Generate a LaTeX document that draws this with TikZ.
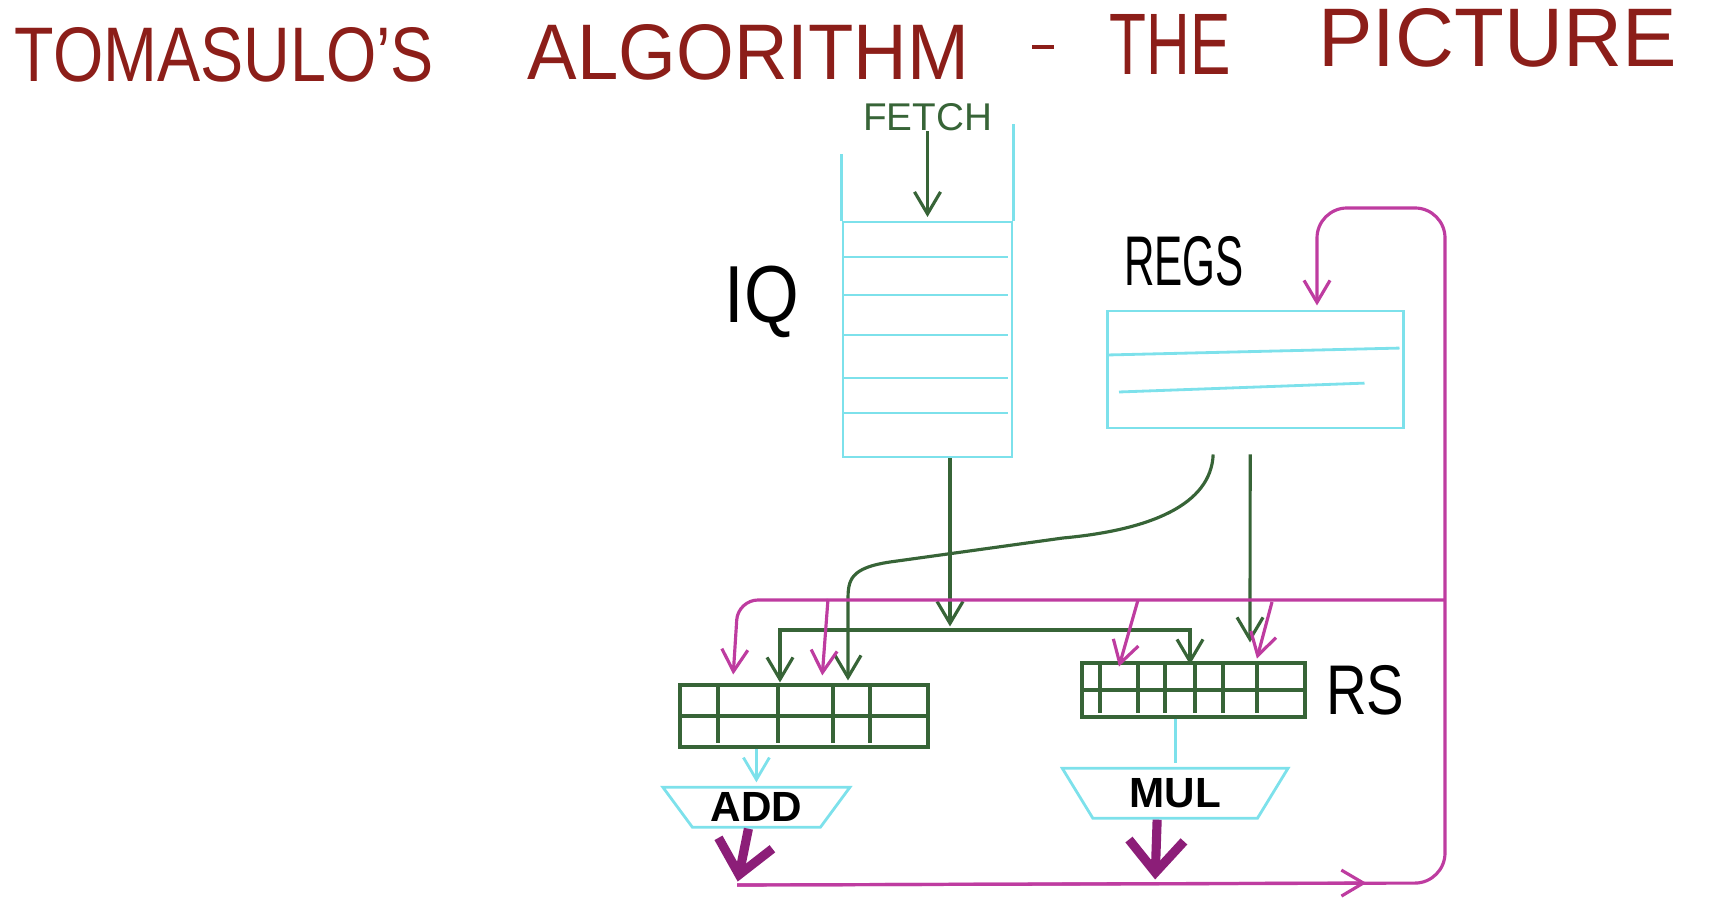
\documentclass[tikz,border=0pt]{standalone}
\usepackage{fontspec}
\setmainfont{Liberation Sans}
\usetikzlibrary{arrows.meta, shapes.geometric, positioning}

\definecolor{qcyan}{RGB}{125,225,235}
\definecolor{wgreen}{RGB}{55,100,55}
\definecolor{cdbmag}{RGB}{190,60,160}
\definecolor{cdbdark}{RGB}{140,30,120}
\definecolor{titlered}{RGB}{140,30,25}

\newcommand{\tword}[3]{\resizebox{#1}{#2}{#3}}

\begin{document}
\begin{tikzpicture}[x=0.01cm, y=-0.01cm, shorten >=1pt, on grid,
	>={Straight Barb[length=2.2mm,width=2.6mm]},
	box/.style={draw=qcyan, line width=0.8pt, inner sep=0pt},
	rsbox/.style={draw=wgreen, line width=1pt, inner sep=0pt},
	rsline/.style={draw=wgreen, line width=1pt},
	gline/.style={draw=wgreen, line width=0.9pt},
	mline/.style={draw=cdbmag, line width=0.9pt},
	cline/.style={draw=qcyan, line width=0.8pt},
	unit/.style={trapezium, shape border rotate=180, trapezium stretches=true, draw=qcyan, line width=0.8pt, inner sep=0pt, font=\bfseries\fontsize{12pt}{12pt}\selectfont},
	lbl/.style={inner sep=0pt, font=\fontsize{20pt}{20pt}\selectfont},
	wb/.style={draw=cdbdark, line width=2.6pt, ->, >={Straight Barb[length=3.2mm,width=5.5mm]}}]
		\useasboundingbox (0,0) rectangle (1712,919);
		
		\node[anchor=base west, inner sep=0pt, text=titlered] (title) at (14,82) {\tword{4.19cm}{0.54cm}{TOMASULO'S}\hspace{0.94cm}\raisebox{0.02cm}{\tword{4.41cm}{0.55cm}{ALGORITHM}}\hspace{0.63cm}\rule[0.33cm]{0.22cm}{0.035cm}\hspace{0.55cm}\raisebox{0.07cm}{\tword{1.21cm}{0.6cm}{THE}}\hspace{0.88cm}\raisebox{0.15cm}{\tword{3.58cm}{0.58cm}{PICTURE}}};
		
		\node[box, minimum width=1.69cm, minimum height=2.35cm] (iq) at (927.5,339.5) {};
		\node[lbl, above=2.225cm of iq, text=wgreen, font=\fontsize{11pt}{11pt}\selectfont] (fetch) {FETCH};
		\node[lbl, above left=0.375cm and 1.655cm of iq, font=\fontsize{23pt}{23pt}\selectfont] (iqlabel) {\scalebox{0.87}[1]{IQ}};
		\node[box, below right=0.3cm and 3.275cm of iq, minimum width=2.96cm, minimum height=1.17cm] (regs) {};
		\node[lbl, above left=1.085cm and 0.71cm of regs] (regslabel) {\scalebox{0.6}[1]{REGS}};
		\node[rsbox, below left=3.765cm and 1.235cm of iq, minimum width=2.48cm, minimum height=0.62cm] (addrs) {};
		\node[rsbox, above right=0.26cm and 3.895cm of addrs, minimum width=2.23cm, minimum height=0.54cm] (mulrs) {};
		\node[lbl, right=1.715cm of mulrs] (rslabel) {\scalebox{0.8}[1]{RS}};
		\node[unit, below left=0.91cm and 0.475cm of addrs, minimum width=1.87cm, minimum height=0.4cm, trapezium angle=54] (add) {ADD};
		\node[unit, below left=1.03cm and 0.185cm of mulrs, minimum width=2.26cm, minimum height=0.5cm, trapezium angle=60] (mul) {MUL};
		
		\coordinate (issue) at (950,630);
		\coordinate (cdb) at (1445,600);
		\coordinate (wbadd) at (737,885);
		\coordinate (wbmul) at (1155,883);
		
		% queue slots and register rows
		\draw[cline] (iq.north west) -- ++(0,-70);
		\draw[cline] (iq.north east) -- ++(0,-100);
		\foreach \y in {257,295,335,378,413}
			\draw[cline] (843,\y) -- (1012,\y);
		\draw[cline] (1107,355) -- (1403,348);
		\draw[cline] (1119,392) -- (1368,383);
		
		% reservation station entries
		\draw[rsline] (addrs.west) -- (addrs.east);
		\foreach \x in {718,778,833,870}
			\draw[rsline] (\x,685) -- (\x,747);
		\draw[rsline] (mulrs.west) -- (mulrs.east);
		\foreach \x in {1100,1138,1165,1195,1223,1257}
			\draw[rsline] (\x,663) -- (\x,717);
		
		\draw[gline,->] (fetch) -- (iq.north);
		\draw[gline,->] (iq.south -| issue) -- (issue);
		\draw[gline,->] (issue) -| (780,686);
		\draw[gline,->] (issue) -| (1190,668);
		\draw[gline,->] ([xshift=-0.42cm,yshift=-0.25cm]regs.south) .. controls (1211,505) and (1150,530) .. (1063,538) -- (890,562) .. controls (850,568) and (848,580) .. (848,600) -- (848,684);
		\draw[gline,->] ([xshift=-0.05cm,yshift=-0.25cm]regs.south) -- (1250,646);
		
		\draw[mline,->,rounded corners=0.2cm] (cdb) -- (738,600) -- (733,678);
		\draw[mline,->] (828,599) -- (822,679);
		\draw[mline,->] (1138,600) -- (1118,670);
		\draw[mline,->] (1272,602) -- (1256,662);
		
		\draw[cline,->] (addrs.south -| add.north) -- (add.north);
		\draw[cline] (mulrs.south -| mul.north) -- (mul.north);
		
		\draw[wb] ([xshift=-0.08cm]add.south) -- (wbadd);
		\draw[wb] ([xshift=-0.18cm]mul.south) -- (wbmul);
		\draw[mline,->] (wbadd) -- (1370,883);
		\draw[mline,->] (wbadd) [rounded corners=0.3cm] -- (1445,883) -- (1445,208) -- (1317,208) [sharp corners] -- (1317,309);
\end{tikzpicture}
\end{document}
